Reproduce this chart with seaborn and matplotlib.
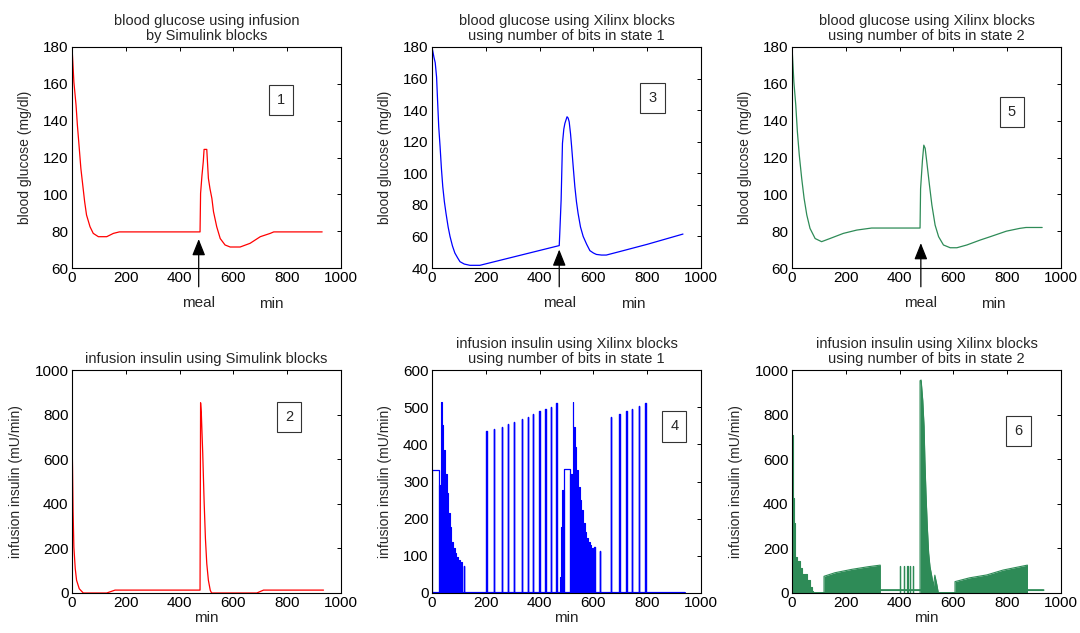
import numpy as np
import pandas as pd
import matplotlib
matplotlib.use("Agg")
import matplotlib.pyplot as plt
import seaborn as sns

# ---------------- data ----------------
# Panel 1: blood glucose, Simulink (red)
p1_t = [0, 3, 7, 15, 20, 26, 33, 40, 47, 54, 67, 79, 98, 129, 154, 176, 476, 478, 483, 488, 491, 501, 507, 513, 520,
        526, 538, 551, 569, 588, 625, 662, 700, 737, 750, 930]
p1_g = [180, 172, 161, 148.5, 137.6, 126.8, 114, 105, 96, 88.8, 82.4, 78.8, 77, 77, 78.8, 79.6, 79.6, 100.5, 110, 117.7,
        124.4, 124.4, 108.7, 103, 97.8, 90.6, 82.4, 76, 72.5, 71.4, 71.4, 73.4, 77, 78.8, 79.6, 79.6]

# Panel 3: blood glucose, Xilinx state 1 (blue)
p3_t = [0, 7, 12, 17, 21, 25, 30, 35, 40, 46, 52, 60, 67, 76, 85, 95, 104, 120, 141, 178, 473, 475, 480, 485, 490, 494,
        502, 506, 510, 515, 519, 525, 531, 537, 543, 552, 562, 575, 587, 600, 611, 630, 648, 700, 800, 933]
p3_g = [180, 173.7, 170, 161, 145, 129.5, 117, 103, 91.6, 82, 74.7, 66, 60, 54, 49.5, 46.5, 44, 42.5, 41.7, 41.7, 54.2,
        62, 83, 119, 128, 131.6, 135.8, 135, 132.6, 125, 117, 104, 91.6, 82, 74.7, 66, 60, 55, 51, 49.5, 48.6, 48.2,
        48.2, 50.5, 55, 61.5]

# Panel 5: blood glucose, Xilinx state 2 (green)
p5_t = [0, 3, 7, 14, 20, 27, 36, 45, 55, 67, 86, 110, 141, 191, 241, 296, 476, 478, 485, 490, 495, 501, 511, 520, 532,
        545, 563, 588, 613, 650, 700, 737, 797, 846, 870, 930]
p5_g = [180, 172, 161, 148.5, 134, 121.4, 108.7, 97.8, 88.8, 81.5, 76, 74.3, 76, 78.8, 80.6, 81.7, 81.7, 103, 118.6,
        126.7, 125, 117.7, 105, 94.2, 83.3, 77, 72.5, 71, 71, 72.5, 75.2, 77, 80, 81.5, 82, 82]

# Panel 2: insulin infusion, Simulink (red)
p2_t = [0, 0, 2, 4, 7, 12, 17, 27, 42, 129, 160, 476, 478, 481, 486, 491, 496, 501, 507, 514, 519, 687, 712, 935]
p2_v = [0, 700, 560, 370, 205, 110, 57, 19, 0, 0, 13, 13, 853, 798, 626, 416, 244, 132, 57, 12, 0, 0, 13, 13]

# Panel 4: insulin infusion, Xilinx state 1 (blue)
p4_hold_start = [0, 491]
p4_hold_end = [27, 514]
p4_hold_level = [330, 333]
p4_burst1_t = [27, 35, 37, 42, 48, 54, 60, 66, 72, 79, 85, 91, 97, 104, 110]
p4_burst1_v = [290, 515, 452, 385, 319, 268, 214, 178, 138, 120, 107, 98, 89, 83, 0]
p4_burst2_t = [477, 481, 485, 491]
p4_burst2_v = [44, 178, 277, 0]
p4_burst3_t = [514, 524, 526, 531, 537, 543, 549, 555, 561, 567, 573, 579, 586, 592, 598]
p4_burst3_v = [320, 515, 447, 394, 331, 286, 250, 223, 187, 165, 147, 138, 129, 120, 0]
p4_spike_t = [118, 202, 231, 259, 282, 305, 334, 357, 376, 399, 421, 441, 462, 604, 625, 665, 697, 722, 744, 768, 793]
p4_spike_v = [73, 436, 440, 446, 454, 460, 467, 474, 481, 489, 495, 501, 510, 125, 113, 474, 481, 490, 496, 502, 510]
p4_end_t = 940

# Panel 6: insulin infusion, Xilinx state 2 (green)
p6_burst1_t = [0, 2, 5, 7, 10, 12, 20, 30, 36, 45, 50, 56, 67, 73, 77]
p6_burst1_v = [709, 581, 424, 312, 238, 160, 145, 110, 87, 57, 84, 60, 28, 10, 0]
p6_burst2_t = [119, 160, 222, 284, 328]
p6_burst2_v = [75, 91, 106, 118, 125]
p6_burst3_t = [476, 480, 486, 491, 494, 498, 503, 508, 513, 520, 526, 531, 538, 544]
p6_burst3_v = [952, 955, 865, 746, 596, 448, 297, 179, 118, 73, 30, 80, 40, 0]
p6_burst4_t = [606, 660, 724, 785, 875]
p6_burst4_v = [51, 68, 81, 103, 125]
p6_base_t = [77, 119, 328, 476, 544, 606, 875, 935]
p6_base_v = [0, 0, 13, 13, 0, 0, 13, 13]
p6_spike_t = [401, 416, 429, 439, 449]
p6_spike_v = [120, 120, 120, 120, 120]

# annotations
meal_t = [471, 473, 479]
meal_tip = [75.7, 51.7, 73.5]
min_t = [740, 750, 750]
box_labels = ["1", "3", "5", "2", "4", "6"]
box_x = [778, 820, 817, 806, 901, 842]
box_y = [151, 147.7, 144.8, 791, 448, 725]

titles = [
    "blood glucose using infusion\nby Simulink blocks",
    "blood glucose using Xilinx blocks\nusing number of bits in state 1",
    "blood glucose using Xilinx blocks\nusing number of bits in state 2",
    "infusion insulin using Simulink blocks",
    "infusion insulin using Xilinx blocks\nusing number of bits in state 1",
    "infusion insulin using Xilinx blocks\nusing number of bits in state 2",
]

RED = "#ff0000"
BLUE = "#0000ff"
GREEN = "#2e8b57"

# ---------------- style ----------------
sns.set_style("white")
plt.rcParams["font.family"] = ["Liberation Sans", "DejaVu Sans"]

fig = plt.figure(figsize=(10.8, 6.33), dpi=100)
lefts = [72 / 1080, 432 / 1080, 792 / 1080]
W = 269 / 1080
top_b, top_h = (633 - 268) / 633, 221 / 633
bot_b, bot_h = (633 - 593) / 633, 223 / 633

axes_top = [fig.add_axes([l, top_b, W, top_h]) for l in lefts]
axes_bot = [fig.add_axes([l, bot_b, W, bot_h]) for l in lefts]

FS = 11


def style_axes(ax, ylim, ystep, title, ylabel):
    ax.set_xlim(0, 1000)
    ax.set_ylim(*ylim)
    ax.set_xticks(np.arange(0, 1001, 200))
    ax.set_yticks(np.arange(ylim[0], ylim[1] + 1, ystep))
    ax.tick_params(direction="in", top=True, right=True, length=3, width=0.7,
                   labelsize=FS, pad=2.5, colors="black")
    for s in ax.spines.values():
        s.set_color("black")
        s.set_linewidth(0.8)
        s.set_visible(True)
    ax.set_title(title, fontsize=10.5, pad=5, linespacing=1.1)
    ax.set_ylabel(ylabel, fontsize=10, labelpad=8)
    ax.set_xlabel("")


def line(ax, t, v, color, lw=0.9):
    df = pd.DataFrame({"t": t, "v": v})
    sns.lineplot(data=df, x="t", y="v", ax=ax, color=color, sort=False,
                 estimator=None, lw=lw)


def spikes(ax, ts, vs, color, w=1.2, lw=1.0):
    rows = []
    for i, (t, v) in enumerate(zip(ts, vs)):
        for x, y in [(t, 0), (t, v), (t + w, v), (t + w, 0)]:
            rows.append({"t": x, "v": y, "id": i})
    df = pd.DataFrame(rows)
    sns.lineplot(data=df, x="t", y="v", units="id", ax=ax, color=color,
                 sort=False, estimator=None, lw=lw)


def step_burst(ax, bt, bv, color):
    ax.fill_between(bt, 0, bv, step="post", color=color, lw=0)
    xs = [bt[0]] + list(np.repeat(bt, 2)[1:])
    ys = [0] + list(np.repeat(bv, 2)[:-1])
    line(ax, xs, ys, color, lw=0.8)


def linear_burst(ax, bt, bv, color):
    ax.fill_between(bt, 0, bv, color=color, lw=0)
    line(ax, [bt[0]] + list(bt) + [bt[-1]], [0] + list(bv) + [0], color, lw=0.8)


# ---------------- top row: glucose ----------------
glu = [(p1_t, p1_g, RED, (60, 180)), (p3_t, p3_g, BLUE, (40, 180)), (p5_t, p5_g, GREEN, (60, 180))]
for i, (ax, (t, g, c, yl)) in enumerate(zip(axes_top, glu)):
    line(ax, t, g, c)
    style_axes(ax, yl, 20, titles[i], "blood glucose (mg/dl)")
    ax.annotate("", xy=(meal_t[i], meal_tip[i]), xycoords="data",
                xytext=(meal_t[i], -0.085), textcoords=("data", "axes fraction"),
                arrowprops=dict(arrowstyle="-|>,head_length=1.0,head_width=0.4",
                                color="black", lw=0.9, shrinkA=0, shrinkB=0),
                annotation_clip=False)
    ax.text(meal_t[i], -0.125, "meal", transform=ax.get_xaxis_transform(),
            ha="center", va="top", fontsize=FS)
    ax.text(min_t[i], -0.13, "min", transform=ax.get_xaxis_transform(),
            ha="center", va="top", fontsize=FS)

# ---------------- bottom row: insulin ----------------
# Panel 2
ax = axes_bot[0]
line(ax, p2_t, p2_v, RED)
style_axes(ax, (0, 1000), 200, titles[3], "infusion insulin (mU/min)")

# Panel 4
ax = axes_bot[1]
line(ax, [0, p4_end_t], [0, 0], BLUE, lw=1.6)
for t0, t1, h in zip(p4_hold_start, p4_hold_end, p4_hold_level):
    line(ax, [t0, t0, t1, t1], [0, h, h, 0], BLUE)
for bt, bv in [(p4_burst1_t, p4_burst1_v), (p4_burst2_t, p4_burst2_v), (p4_burst3_t, p4_burst3_v)]:
    step_burst(ax, bt, bv, BLUE)
spikes(ax, p4_spike_t, p4_spike_v, BLUE)
style_axes(ax, (0, 600), 100, titles[4], "infusion insulin (mU/min)")

# Panel 6
ax = axes_bot[2]
line(ax, p6_base_t, p6_base_v, GREEN, lw=1.4)
step_burst(ax, p6_burst1_t, p6_burst1_v, GREEN)
for bt, bv in [(p6_burst2_t, p6_burst2_v), (p6_burst3_t, p6_burst3_v), (p6_burst4_t, p6_burst4_v)]:
    linear_burst(ax, bt, bv, GREEN)
spikes(ax, p6_spike_t, p6_spike_v, GREEN, w=1.0, lw=0.9)
style_axes(ax, (0, 1000), 200, titles[5], "infusion insulin (mU/min)")

for ax in axes_bot:
    ax.set_xlabel("min", fontsize=FS, labelpad=0.5)

# number boxes
for ax, lab, bx, by in zip(axes_top + axes_bot, box_labels, box_x, box_y):
    ax.text(bx, by, lab, ha="center", va="center", fontsize=10.5,
            bbox=dict(boxstyle="square,pad=0.55", fc="white", ec="#333333", lw=0.8))

fig.savefig("out.png", dpi=100)
